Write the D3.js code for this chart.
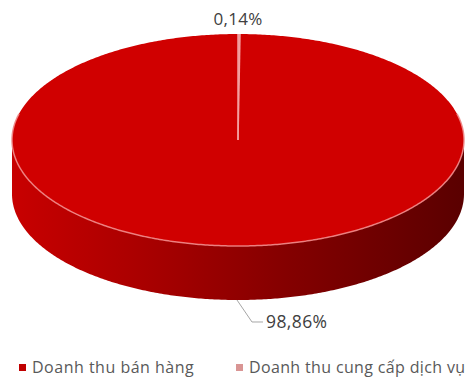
<!DOCTYPE html>
<html><head><meta charset="utf-8">
<script src="https://cdn.jsdelivr.net/npm/d3@7/dist/d3.min.js"></script>
<style>body{margin:0;background:#fff}svg{display:block}</style>
</head><body>
<script>
const categories = ["Doanh thu cung cấp dịch vụ", "Doanh thu bán hàng"];
const values = [0.14, 98.86];
const valueLabels = ["0,14%", "98,86%"];
const legendOrder = ["Doanh thu bán hàng", "Doanh thu cung cấp dịch vụ"];
const colors = {"Doanh thu bán hàng": "#c00000", "Doanh thu cung cấp dịch vụ": "#d99594"};

const W = 468, H = 379;
const cx = 238, cy = 140, rx = 226, ry = 106, depth = 54;
const svg = d3.select("body").append("svg").attr("width", W).attr("height", H);
const defs = svg.append("defs");
const g1 = defs.append("linearGradient").attr("id","side").attr("gradientUnits","userSpaceOnUse")
  .attr("x1", cx-rx).attr("x2", cx+rx).attr("y1",0).attr("y2",0);
g1.append("stop").attr("offset","0").attr("stop-color","#c80000");
g1.append("stop").attr("offset","0.3").attr("stop-color","#a80000");
g1.append("stop").attr("offset","0.6").attr("stop-color","#850000");
g1.append("stop").attr("offset","1").attr("stop-color","#5a0000");

const pie = d3.pie().sort(null).value(d => d);
const arcs = pie(values);
const px = a => cx + rx*Math.sin(a), py = a => cy - ry*Math.cos(a);

function arcPts(a0, a1, dy) {
  const n = Math.max(2, Math.ceil(Math.abs(a1-a0)/0.01));
  return d3.range(n+1).map(i => { const a = a0 + (a1-a0)*i/n; return [px(a), py(a)+dy]; });
}
// side walls (front half only)
arcs.forEach((d, i) => {
  const a0 = Math.max(d.startAngle, Math.PI/2), a1 = Math.min(d.endAngle, 3*Math.PI/2);
  if (a1 <= a0) return;
  const top = arcPts(a0, a1, 0), bot = arcPts(a1, a0, depth);
  svg.append("path").attr("d", d3.line()(top.concat(bot)) + "Z").attr("fill", "url(#side)");
});
// top face
const topG = svg.append("g");
arcs.forEach((d, i) => {
  const pts = [[cx, cy]].concat(arcPts(d.startAngle, d.endAngle, 0));
  topG.append("path").attr("d", d3.line()(pts) + "Z")
    .attr("fill", i === 1 ? "#d00000" : "#d99594");
});
// slice separator lines
arcs.forEach(d => {
  svg.append("line").attr("x1", cx).attr("y1", cy).attr("x2", px(d.startAngle)).attr("y2", py(d.startAngle))
    .attr("stroke", "#f4a0a0").attr("stroke-width", 1.5);
});
// highlight on front edge
svg.append("path").attr("d", d3.line()(arcPts(Math.PI/2 - 0.25, 3*Math.PI/2 + 0.25, 0)))
  .attr("fill","none").attr("stroke","#f08888").attr("stroke-width",1.5).attr("opacity",0.9);

// labels
const font = "Open Sans, sans-serif";
svg.append("text").attr("x", 238).attr("y", 25).attr("text-anchor","middle")
  .attr("font-family",font).attr("font-size",17).attr("letter-spacing",0.3).attr("fill","#404040").text(valueLabels[0]);
const big = arcs[1];
const mid = (big.startAngle + big.endAngle)/2;
const lx = px(mid), ly = py(mid) + depth;
svg.append("polyline").attr("points", [[lx, ly], [lx+15, ly+22], [lx+26, ly+22]].join(" "))
  .attr("fill","none").attr("stroke","#a6a6a6").attr("stroke-width",1);
svg.append("text").attr("x", lx+29).attr("y", ly+28)
  .attr("font-family",font).attr("font-size",17.5).attr("letter-spacing",0.4).attr("fill","#404040").text(valueLabels[1]);

// legend
const legX = [19, 236];
const legSpacing = [0.5, 0.35];
legendOrder.forEach((c, i) => {
  svg.append("rect").attr("x", legX[i]).attr("y", 364).attr("width", 7).attr("height", 7).attr("fill", colors[c]);
  svg.append("text").attr("x", legX[i] + 13).attr("y", 373)
    .attr("font-family",font).attr("font-size",16).attr("letter-spacing",legSpacing[i]).attr("fill","#595959").text(c);
});
</script>
</body></html>
